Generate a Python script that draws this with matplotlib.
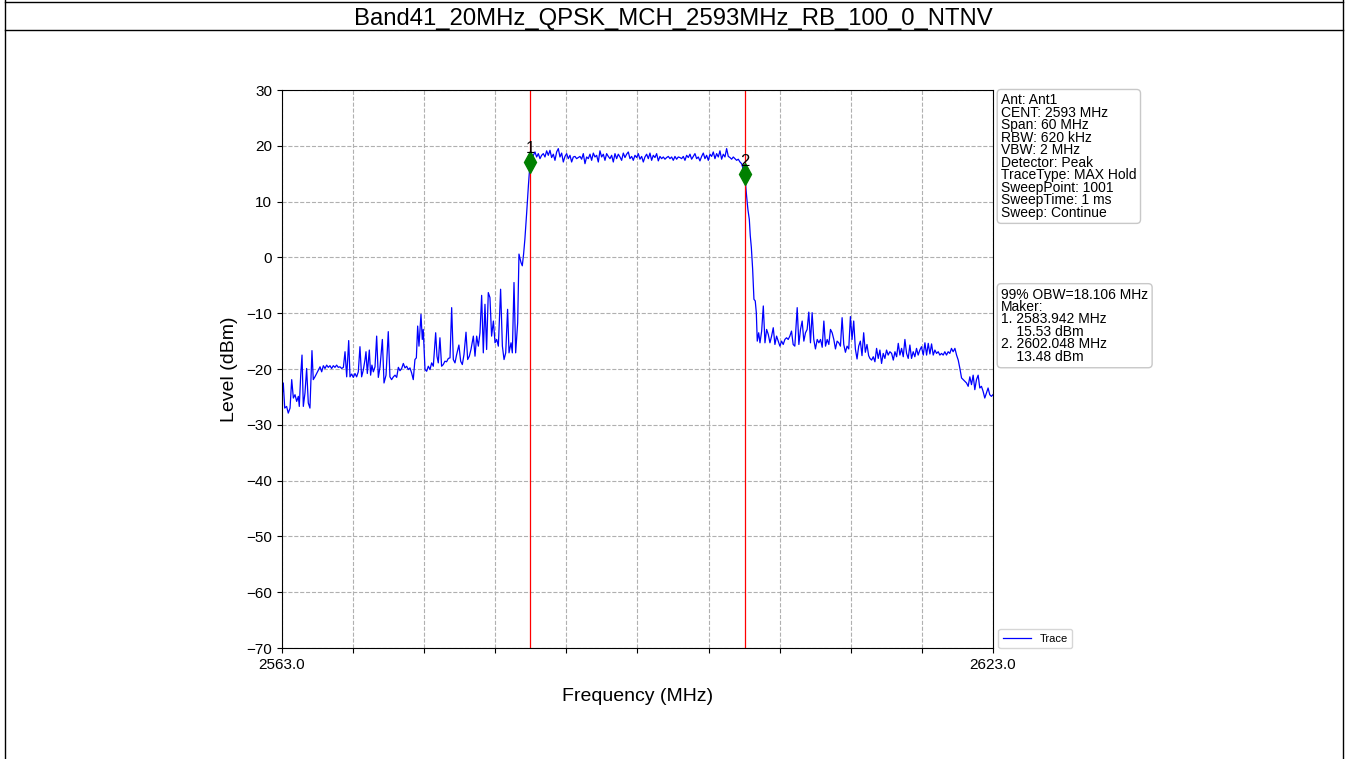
import numpy as np
import matplotlib
matplotlib.use("Agg")
import matplotlib.pyplot as plt
from matplotlib.lines import Line2D

plt.rcParams['font.family'] = ['Liberation Sans', 'DejaVu Sans']

titulo = "Band41_20MHz_QPSK_MCH_2593MHz_RB_100_0_NTNV"

# trace below the channel (MHz, dBm)
low_freq = [2563.00, 2563.11, 2563.23, 2563.39, 2563.53, 2563.68, 2563.82, 2563.96, 2564.10, 2564.24,
            2564.38, 2564.46, 2564.58, 2564.69, 2564.80, 2564.94, 2565.08, 2565.22, 2565.36, 2565.53,
            2565.64, 2565.78, 2565.93, 2566.07, 2566.21, 2566.35, 2566.49, 2566.63, 2566.77, 2566.91,
            2567.05, 2567.19, 2567.33, 2567.47, 2567.61, 2567.75, 2567.89, 2568.04, 2568.18, 2568.32,
            2568.46, 2568.63, 2568.74, 2568.88, 2569.02, 2569.16, 2569.30, 2569.44, 2569.58, 2569.72,
            2569.86, 2570.00, 2570.09, 2570.20, 2570.37, 2570.48, 2570.59, 2570.71, 2570.85, 2570.99,
            2571.13, 2571.27, 2571.47, 2571.61, 2571.78, 2571.97, 2572.11, 2572.25, 2572.40, 2572.54,
            2572.68, 2572.82, 2572.96, 2573.10, 2573.24,
            2573.38, 2573.52, 2573.66, 2573.80, 2573.94, 2574.08, 2574.22, 2574.34, 2574.45, 2574.56,
            2574.73, 2574.84, 2574.92, 2575.07, 2575.21, 2575.35, 2575.49, 2575.63, 2575.77, 2575.97,
            2576.08, 2576.19, 2576.33, 2576.47, 2576.61, 2576.75, 2576.89, 2577.04, 2577.18, 2577.32,
            2577.46, 2577.60, 2577.74, 2577.93, 2578.08, 2578.22, 2578.36, 2578.53, 2578.67, 2578.81,
            2578.95, 2579.15, 2579.29, 2579.43, 2579.57, 2579.71, 2579.85, 2579.99, 2580.13, 2580.27,
            2580.41, 2580.55, 2580.69, 2580.84, 2580.98, 2581.12, 2581.26, 2581.45, 2581.60, 2581.74,
            2581.88, 2582.04, 2582.16, 2582.33, 2582.44, 2582.58, 2582.72, 2582.89, 2583.00, 2583.17,
            2583.28, 2583.39, 2583.50, 2583.65, 2583.80, 2583.94]
low_level = [-25.0, -22.5, -27.0, -26.7, -27.9, -27.0, -21.9, -25.2, -24.6, -25.8,
             -24.9, -26.7, -21.1, -17.5, -26.7, -24.3, -19.9, -26.1, -27.0, -16.7,
             -21.9, -21.4, -20.8, -20.2, -19.6, -20.5, -19.4, -19.9, -19.3, -19.7,
             -19.4, -19.9, -19.4, -19.7, -19.3, -19.7, -19.6, -19.9, -19.7, -16.9,
             -21.4, -14.9, -21.4, -20.9, -21.5, -20.8, -21.4, -20.5, -16.0, -21.4,
             -20.2, -18.4, -16.9, -20.8, -16.6, -21.1, -19.3, -20.5, -19.6, -14.1,
             -21.5, -19.7, -14.7, -22.5, -21.1, -13.3, -21.4, -21.9, -21.4, -21.1,
             -21.5, -19.7, -20.3, -19.9, -19.0,
             -19.8, -19.5, -20.1, -19.8, -20.7, -21.9, -18.3, -18.0, -12.3, -15.9,
             -10.2, -14.7, -12.9, -20.1, -20.4, -19.5, -20.1, -18.9, -19.5, -13.5,
             -17.7, -18.9, -14.4, -19.5, -19.2, -18.6, -18.7, -18.1, -18.0, -9.0,
             -18.3, -18.9, -17.4, -15.7, -18.6, -19.2, -17.4, -13.4, -18.3, -17.7,
             -16.5, -14.1, -17.7, -14.1, -15.9, -13.5, -6.8, -17.1, -8.4, -16.5,
             -6.3, -7.2, -14.1, -11.4, -15.3, -14.7, -15.9, -5.7, -15.9, -18.3,
             -17.1, -9.3, -17.1, -15.3, -17.1, -4.5, -17.1, -11.7, 0.6, -0.9,
             -1.5, 0.6, 3.3, 8.0, 13.0, 17.1]

# in-channel part, one value per sweep step from 2584.21 to 2601.79 MHz
band_start, band_stop = 2584.21, 2601.79
band_level = [18.3, 18.9, 18.0, 18.6, 17.7, 18.3, 18.6, 18.0, 19.1, 18.3,
              19.2, 17.9, 18.5, 17.4, 18.9, 19.5, 18.0, 18.7, 17.1, 18.1,
              18.6, 17.7, 18.3, 17.1, 18.0, 18.1, 17.7, 17.9, 18.1, 17.6,
              18.6, 16.8, 18.0, 17.7, 18.5, 17.4, 18.7, 18.0, 18.3, 17.1,
              19.1, 18.0, 18.5, 17.4, 18.6, 18.1, 17.7, 18.3, 17.1, 18.6,
              17.7, 18.5, 18.0, 17.4, 18.7, 17.9, 18.5, 18.9, 17.7, 18.1,
              17.4, 18.3, 17.9, 18.6, 17.6, 18.1, 17.1, 18.0, 18.5, 17.7,
              18.7, 17.4, 18.3, 17.9, 18.6, 17.3, 18.1, 17.7, 18.0, 17.6,
              17.9, 18.1, 17.7, 18.0, 17.4, 18.1, 17.6, 18.0, 17.9, 17.7,
              18.1, 17.4, 18.3, 17.9, 18.5, 17.6, 18.1, 18.6, 17.7, 18.0,
              17.3, 18.1, 18.7, 17.7, 18.3, 17.4, 18.5, 18.1, 18.9, 17.7,
              18.6, 18.0, 19.1, 17.6, 18.5, 18.0, 19.5, 18.1, 17.9, 17.6,
              18.0, 17.7, 17.4, 17.6, 17.1, 16.8]

# trace above the channel (MHz, dBm)
high_freq = [2602.05, 2602.21, 2602.32, 2602.44, 2602.52, 2602.61, 2602.72, 2602.83, 2602.94, 2603.03,
             2603.11, 2603.23, 2603.34, 2603.48, 2603.62, 2603.76, 2603.90, 2604.04, 2604.18, 2604.32,
             2604.46, 2604.60, 2604.74, 2604.88, 2605.02, 2605.16, 2605.30, 2605.44, 2605.58, 2605.72,
             2605.86, 2606.00, 2606.14, 2606.28, 2606.48, 2606.62, 2606.76, 2606.90, 2607.04, 2607.18,
             2607.32, 2607.46, 2607.60, 2607.74, 2607.88, 2608.02, 2608.17, 2608.31, 2608.45, 2608.59,
             2608.73, 2608.87, 2609.01, 2609.15, 2609.29, 2609.43, 2609.57, 2609.71, 2609.85, 2609.99,
             2610.13, 2610.27, 2610.41, 2610.55, 2610.69, 2610.83, 2610.97, 2611.11, 2611.25, 2611.39,
             2611.53, 2611.67, 2611.81, 2611.95, 2612.09, 2612.23, 2612.37, 2612.51,
             2612.62, 2612.76, 2612.90, 2613.04, 2613.18, 2613.32, 2613.46, 2613.60, 2613.74, 2613.88,
             2614.02, 2614.16, 2614.30, 2614.45, 2614.59, 2614.73, 2614.87, 2615.01, 2615.15, 2615.29,
             2615.43, 2615.57, 2615.71, 2615.85, 2615.99, 2616.13, 2616.27, 2616.41, 2616.55, 2616.69,
             2616.83, 2616.97, 2617.12, 2617.26, 2617.40, 2617.54, 2617.68, 2617.82, 2617.96, 2618.10,
             2618.24, 2618.38, 2618.52, 2618.66, 2618.80, 2618.94, 2619.08, 2619.22, 2619.36, 2619.50,
             2619.64, 2619.79, 2619.93, 2620.07, 2620.21, 2620.35, 2620.49, 2620.63, 2620.77, 2620.91,
             2621.05, 2621.19, 2621.33, 2621.47, 2621.61, 2621.75, 2621.89, 2622.03, 2622.17, 2622.31,
             2622.45, 2622.59, 2622.73, 2622.87, 2623.00]
high_level = [14.9, 11.0, 8.6, 6.8, 3.9, 1.8, -2.1, -7.5, -7.8, -9.9,
              -15.0, -13.5, -15.3, -13.2, -8.7, -15.3, -12.9, -13.8, -15.3, -14.1,
              -12.6, -15.6, -14.1, -15.0, -15.9, -15.0, -15.6, -14.7, -14.4, -14.7,
              -14.1, -13.2, -15.6, -15.9, -9.0, -15.6, -12.9, -11.4, -15.0, -13.5,
              -12.9, -9.8, -15.3, -9.9, -14.7, -16.4, -14.7, -15.3, -14.7, -16.1,
              -11.4, -15.9, -14.7, -15.6, -12.9, -13.5, -14.7, -16.4, -15.0, -15.3,
              -15.9, -10.8, -15.6, -17.0, -15.9, -16.4, -10.6, -14.7, -11.4, -16.4,
              -18.2, -15.9, -15.0, -17.6, -13.5, -17.0, -15.6, -17.6,
              -18.1, -18.4, -17.8, -18.7, -16.3, -18.1, -16.6, -19.0, -17.2, -18.1,
              -16.6, -17.5, -16.9, -17.2, -18.4, -16.9, -17.8, -15.4, -17.5, -16.3,
              -17.8, -14.7, -17.2, -18.1, -15.7, -18.1, -16.9, -17.8, -16.3, -17.5,
              -16.6, -16.0, -17.5, -15.3, -17.5, -15.4, -17.3, -15.5, -17.5, -16.6,
              -17.2, -16.9, -17.5, -17.2, -17.5, -16.9, -17.5, -16.9, -17.2, -16.3,
              -16.9, -16.3, -17.5, -18.4, -19.9, -21.6, -21.9, -22.2, -22.5, -23.1,
              -21.4, -22.8, -21.1, -23.7, -21.9, -21.1, -23.4, -23.1, -24.0, -25.2,
              -24.3, -23.4, -24.6, -24.9, -24.6]

marker_freq = [2583.942, 2602.048]
marker_level = [17.1, 14.9]
marker_names = ["1", "2"]

info_lines = ["Ant: Ant1", "CENT: 2593 MHz", "Span: 60 MHz", "RBW: 620 kHz", "VBW: 2 MHz",
              "Detector: Peak", "TraceType: MAX Hold", "SweepPoint: 1001",
              "SweepTime: 1 ms", "Sweep: Continue"]
obw_lines = ["99% OBW=18.106 MHz", "Maker:", "1. 2583.942 MHz", "    15.53 dBm",
             "2. 2602.048 MHz", "    13.48 dBm"]

band_freq = np.linspace(band_start, band_stop, len(band_level))
freq = np.concatenate([low_freq, band_freq, high_freq])
level = np.concatenate([low_level, band_level, high_level])

fig = plt.figure(figsize=(13.46, 7.59), dpi=100)
ax = fig.add_axes([0.2095, 0.1462, 0.5282, 0.7352])

ax.plot(freq, level, color="blue", linewidth=0.9, label="Trace")
for f in marker_freq:
    ax.axvline(f, color="red", linewidth=0.9)
ax.plot(marker_freq, marker_level, "d", color="green", markersize=11, linestyle="none")
for f, lv, nombre in zip(marker_freq, marker_level, marker_names):
    ax.annotate(nombre, (f, lv), xytext=(0, 4), textcoords="offset points",
                ha="center", va="bottom", fontsize=12)

ax.set_xlim(2563, 2623)
ax.set_ylim(-70, 30)
xticks = np.arange(2563, 2624, 6)
ax.set_xticks(xticks)
ax.set_xticklabels(["2563.0"] + [""] * (len(xticks) - 2) + ["2623.0"])
ax.set_yticks(np.arange(-70, 31, 10))
ax.tick_params(labelsize=11)
ax.grid(True, linestyle="--", color="#b0b0b0", linewidth=0.8)
ax.set_xlabel("Frequency (MHz)", fontsize=14, labelpad=12)
ax.set_ylabel("Level (dBm)", fontsize=14, labelpad=6)

caja = dict(boxstyle="round,pad=0.28", facecolor="white", edgecolor="#c8c8c8")
ax.text(1.0115, 0.994, "\n".join(info_lines), transform=ax.transAxes, ha="left", va="top",
        fontsize=10, linespacing=0.86, bbox=caja)
ax.text(1.0115, 0.646, "\n".join(obw_lines), transform=ax.transAxes, ha="left", va="top",
        fontsize=10, linespacing=0.86, bbox=caja)
ax.legend(loc="lower left", bbox_to_anchor=(1.0, -0.01), fontsize=8, handlelength=2.5)

fig.text(0.5, 0.975, titulo, ha="center", va="center", fontsize=17.2)

# marco de la tabla
borde = dict(color="black", linewidth=1)
fig.add_artist(Line2D([0.004, 0.004], [0, 1], transform=fig.transFigure, **borde))
fig.add_artist(Line2D([0.9975, 0.9975], [0, 1], transform=fig.transFigure, **borde))
fig.add_artist(Line2D([0.004, 0.9975], [0.998, 0.998], transform=fig.transFigure, **borde))
fig.add_artist(Line2D([0.004, 0.9975], [0.96, 0.96], transform=fig.transFigure, **borde))

fig.savefig("out.png", dpi=100)
